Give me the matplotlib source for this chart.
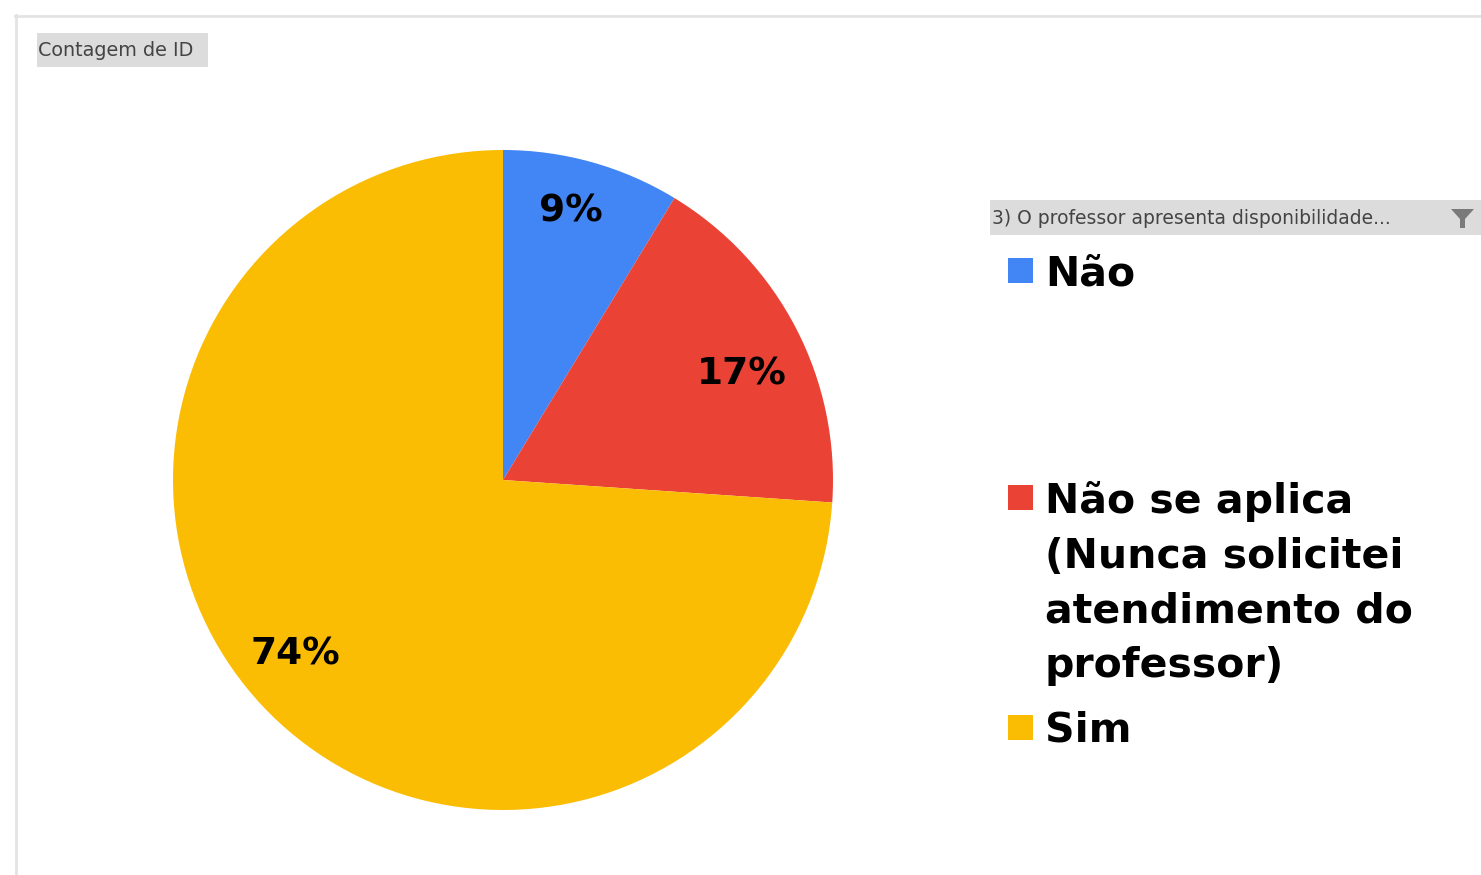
import numpy as np
import matplotlib.pyplot as plt
from matplotlib.patches import Rectangle, Polygon
from matplotlib.lines import Line2D

# dados do gráfico (contagem de respostas)
categorias = ["Não", "Não se aplica\n(Nunca solicitei\natendimento do\nprofessor)", "Sim"]
valores = [2, 4, 17]
cores = ["#4285F4", "#EA4335", "#FBBC04"]
titulo_campo = "3) O professor apresenta disponibilidade..."
titulo_dados = "Contagem de ID"

W, H = 1481, 875
fig = plt.figure(figsize=(W / 100, H / 100), dpi=100)
plt.rcParams['font.family'] = ['DejaVu Sans']


def fx(px):
    return px / W


def fy(py):
    return 1 - py / H


# moldura cinza clara
fig.add_artist(Line2D([fx(15), 1], [fy(16), fy(16)], color="#e3e3e3", lw=2))
fig.add_artist(Line2D([fx(16), fx(16)], [fy(15), 0], color="#e3e3e3", lw=2))

# botão "Contagem de ID"
fig.add_artist(Rectangle((fx(37), fy(67)), fx(171), 34 / H, color="#dcdcdc", lw=0))
fig.text(fx(38), fy(51), titulo_dados, fontsize=13.8, color="#444444", va="center")

# pizza
cx, cy, r = 503, 480, 330
ax = fig.add_axes([fx(cx - r), fy(cy + r), 2 * r / W, 2 * r / H])
wedges, textos, autotextos = ax.pie(valores, colors=cores, startangle=90, counterclock=False,
                                    autopct="%.0f%%", pctdistance=0.81, radius=1,
                                    wedgeprops=dict(linewidth=0))
# distância e desvio angular de cada rótulo
dist_rotulos = [0.84, 0.79, 0.82]
desvio_ang = [1.5, -3.5, -3.0]
for w, t, d, da in zip(wedges, autotextos, dist_rotulos, desvio_ang):
    ang = np.deg2rad((w.theta1 + w.theta2) / 2 + da)
    t.set_position((d * np.cos(ang), d * np.sin(ang)))
    t.set_fontsize(27)
    t.set_fontweight("bold")
    t.set_color("black")
ax.set_xlim(-1, 1)
ax.set_ylim(-1, 1)
ax.set_aspect("auto")
ax.axis("off")

# cabeçalho da legenda
fig.add_artist(Rectangle((fx(990), fy(235)), 1 - fx(990), 35 / H, color="#dcdcdc", lw=0))
fig.text(fx(992), fy(218), titulo_campo, fontsize=13.5, color="#444444", va="center")
fig.add_artist(Polygon([[fx(1451), fy(209)], [fx(1474), fy(209)], [fx(1465), fy(219)],
                        [fx(1465), fy(228)], [fx(1460), fy(228)], [fx(1460), fy(219)]],
                       closed=True, color="#7a7a7a", lw=0))

# legenda
base_y = [285, 512, 742]
passo = 55
for cat, cor, by in zip(categorias, cores, base_y):
    n = cat.count("\n")
    fig.add_artist(Rectangle((fx(1008), fy(by - 2)), 25 / W, 25 / H, color=cor, lw=0))
    fig.text(fx(1045), fy(by + n * passo), cat, fontsize=29.5, fontweight="bold", color="black",
             va="baseline", linespacing=1.47)

fig.savefig("out.png", dpi=100)
